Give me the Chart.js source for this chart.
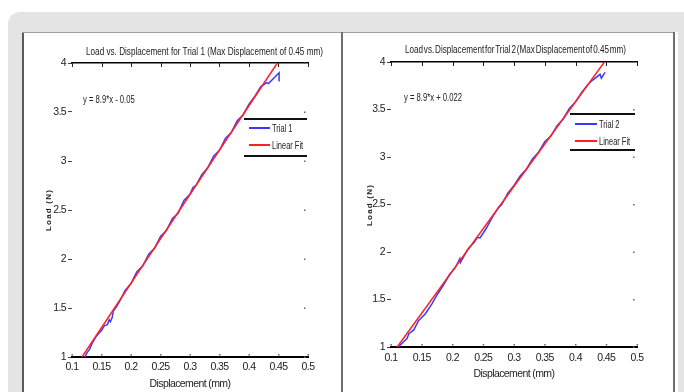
<!DOCTYPE html>
<html><head><meta charset="utf-8">
<script src="https://cdn.jsdelivr.net/npm/chart.js@4.4.1/dist/chart.umd.min.js"></script>
<style>
html,body{margin:0;padding:0;background:#fff;width:684px;height:392px;overflow:hidden;position:relative;font-family:'Liberation Sans','Arial',sans-serif;color:#222}
#bg{position:absolute;left:8px;top:12px;width:720px;height:420px;background:#e4e4e4;border-radius:12px}
#panel{position:absolute;left:22px;top:32px;width:656px;height:380px;background:#fff}
.ln{position:absolute;background:#6e6e6e}
canvas{position:absolute}
.t{position:absolute;white-space:nowrap;font-size:11.5px;line-height:12px;transform-origin:0 50%}
.eq{position:absolute;white-space:nowrap;font-size:10.5px;line-height:12px;transform-origin:0 50%;transform:scaleX(0.73)}
.lgline{position:absolute;height:2px}
.lgtxt{position:absolute;white-space:nowrap;font-size:11px;line-height:12px;transform-origin:0 50%;transform:scaleX(0.68)}
.yt{position:absolute;white-space:nowrap;font-size:8px;font-weight:bold;letter-spacing:1.2px;line-height:10px;transform:translate(-50%,-50%) rotate(-90deg)}
</style></head>
<body>
<div id="bg"></div>
<div id="panel"></div>
<div class="ln" style="left:22px;top:32px;width:2px;height:370px;background:#5a5a5a"></div>
<div class="ln" style="left:22px;top:32px;width:653px;height:1px;background:#a0a0a0"></div>
<div class="ln" style="left:341px;top:32px;width:2px;height:370px"></div>
<div class="ln" style="left:673px;top:32px;width:2px;height:370px"></div>

<canvas id="c1" width="316" height="358" style="left:24px;top:34px;width:316px;height:358px"></canvas>
<canvas id="c2" width="328" height="358" style="left:344px;top:34px;width:328px;height:358px"></canvas>

<div class="t" id="t1" style="left:86px;top:45px">Load vs. Displacement for Trial 1 (Max Displacement of 0.45 mm)</div>
<div class="t" id="t2" style="left:405px;top:43px;word-spacing:-2px">Load vs. Displacement for Trial 2 (Max Displacement of 0.45 mm)</div>

<div class="yt" style="left:49px;top:210px">Load (N)</div>
<div class="yt" style="left:370px;top:205px">Load (N)</div>

<div class="eq" style="left:83px;top:93px">y = 8.9*x - 0.05</div>
<div class="eq" style="left:404px;top:91px">y = 8.9*x + 0.022</div>

<!-- legend left -->
<div class="lgline" style="left:244px;top:118px;width:63px;height:1.5px;background:#111"></div>
<div class="lgline" style="left:244px;top:155px;width:63px;height:1.5px;background:#111"></div>
<div class="lgline" style="left:249px;top:127px;width:21px;background:#3a3aff"></div>
<div class="lgtxt" style="left:272px;top:122px">Trial 1</div>
<div class="lgline" style="left:249px;top:144px;width:21px;background:#ff2020"></div>
<div class="lgtxt" style="left:272px;top:139px">Linear Fit</div>
<!-- legend right -->
<div class="lgline" style="left:570px;top:113px;width:65px;height:1.5px;background:#111"></div>
<div class="lgline" style="left:570px;top:149px;width:65px;height:1.5px;background:#111"></div>
<div class="lgline" style="left:575px;top:123px;width:22px;background:#3a3aff"></div>
<div class="lgtxt" style="left:599px;top:118px">Trial 2</div>
<div class="lgline" style="left:575px;top:140px;width:22px;background:#ff2020"></div>
<div class="lgtxt" style="left:599px;top:135px">Linear Fit</div>

<script>
// ---- data ----
const xTicks = [0.1,0.15,0.2,0.25,0.3,0.35,0.4,0.45,0.5];
const yTicks = [1,1.5,2,2.5,3,3.5,4];

const trial1X = [0.122,0.125,0.130,0.135,0.140,0.145,0.150,0.155,0.160,0.163,0.165,0.168,0.170,0.175,0.180,0.190,0.200,0.210,0.220,0.230,0.240,0.250,0.255,0.260,0.270,0.280,0.290,0.300,0.305,0.310,0.320,0.330,0.340,0.350,0.360,0.370,0.380,0.390,0.400,0.410,0.420,0.430,0.433,0.451,0.451];
const trial1Y = [1.00,1.04,1.08,1.15,1.20,1.24,1.27,1.32,1.33,1.38,1.36,1.40,1.47,1.51,1.56,1.68,1.75,1.87,1.93,2.05,2.11,2.23,2.26,2.29,2.41,2.47,2.60,2.66,2.73,2.75,2.86,2.93,3.05,3.11,3.23,3.29,3.41,3.47,3.58,3.66,3.76,3.80,3.79,3.90,3.81];
const fit1X = [0.117,0.448];
const fit1Y = [1.0,4.0];

const trial2X = [0.112,0.118,0.126,0.129,0.137,0.145,0.156,0.167,0.175,0.185,0.195,0.205,0.212,0.213,0.225,0.235,0.240,0.245,0.255,0.265,0.275,0.280,0.290,0.300,0.310,0.320,0.330,0.340,0.350,0.360,0.370,0.380,0.390,0.400,0.410,0.420,0.428,0.440,0.442,0.448];
const trial2Y = [1.00,1.04,1.09,1.14,1.18,1.28,1.35,1.46,1.55,1.65,1.76,1.84,1.93,1.89,2.03,2.10,2.15,2.15,2.25,2.37,2.47,2.50,2.62,2.70,2.80,2.87,2.98,3.05,3.16,3.22,3.33,3.40,3.51,3.58,3.68,3.76,3.81,3.87,3.83,3.89];
const fit2X = [0.110,0.447];
const fit2Y = [1.0,4.0];

const FONT = "'Liberation Sans','Arial',sans-serif";
const pts = (xs, ys) => xs.map((x, i) => ({x, y: ys[i]}));
const fmt = v => String(Math.round(v * 100) / 100);

// fit titles to their measured widths in the reference
function fitWidth(id, w) {
  const el = document.getElementById(id);
  const k = w / el.getBoundingClientRect().width;
  el.style.transform = 'scaleX(' + k + ')';
}
fitWidth('t1', 237);
fitWidth('t2', 221);

const condense = {
  id: 'condense',
  beforeLayout(chart) { chart.ctx.letterSpacing = '-0.6px'; },
  beforeDraw(chart) { chart.ctx.letterSpacing = '-0.6px'; }
};

const decor = {
  id: 'decor',
  afterDraw(chart) {
    const {ctx, chartArea: a, scales: {x, y}} = chart;
    ctx.save();
    ctx.strokeStyle = '#222';
    ctx.lineWidth = 1;
    xTicks.forEach(v => {
      const px = Math.round(x.getPixelForValue(v)) + 0.5;
      ctx.beginPath(); ctx.moveTo(px, a.top); ctx.lineTo(px, a.top + 4); ctx.stroke();
    });
    ctx.fillStyle = '#666';
    xTicks.forEach(v => {
      const px = x.getPixelForValue(v);
      ctx.fillRect(px - 0.5, a.bottom - 3, 1.5, 1.5);
    });
    yTicks.forEach(v => {
      const py = y.getPixelForValue(v);
      ctx.fillRect(a.right - 4, py - 0.5, 1.5, 1.5);
    });
    ctx.restore();
  }
};

function makeChart(id, tX, tY, fX, fY, cfg) {
  new Chart(document.getElementById(id), {
    type: 'scatter',
    data: {
      datasets: [
        {label: 'Linear Fit', data: pts(fX, fY), showLine: true, borderColor: '#ff2020', borderWidth: 1.5, pointRadius: 0, order: 0},
        {label: cfg.name, data: pts(tX, tY), showLine: true, borderColor: '#3a3aff', borderWidth: 1.5, pointRadius: 0, order: 1}
      ]
    },
    options: {
      responsive: false, animation: false, events: [],
      layout: {padding: {left: 0, right: cfg.padRight, top: 0, bottom: 0}},
      plugins: {legend: {display: false}, tooltip: {enabled: false}, title: {display: false}},
      scales: {
        x: {
          type: 'linear', position: 'bottom', min: 0.1, max: 0.5,
          afterBuildTicks: s => { s.ticks = xTicks.map(v => ({value: v})); },
          afterFit: s => { s.height = cfg.xH; },
          border: {display: true, color: '#000', width: 2},
          grid: {display: true, drawOnChartArea: false, drawTicks: false},
          ticks: {color: '#222', font: {family: FONT, size: 10.5}, padding: cfg.xTickPad, maxRotation: 0, autoSkip: false, callback: fmt},
          title: {display: true, text: 'Displacement (mm)', color: '#222', font: {family: FONT, size: 10.5}, padding: {top: 0, bottom: cfg.xTitlePad}}
        },
        xTop: {
          type: 'linear', position: 'top', min: 0.1, max: 0.5,
          afterFit: s => { s.height = cfg.topH; },
          border: {display: true, color: '#000', width: 1.5},
          grid: {display: false},
          ticks: {display: false}
        },
        y: {
          type: 'linear', position: 'left', min: 1, max: 4,
          afterBuildTicks: s => { s.ticks = yTicks.map(v => ({value: v})); },
          afterFit: s => { s.width = cfg.yW; },
          border: {display: false},
          grid: {display: true, drawOnChartArea: false, drawTicks: true, tickLength: 4, color: '#444'},
          ticks: {color: '#222', font: {family: FONT, size: 10.5}, padding: 2, callback: fmt},
          title: {display: false}
        }
      }
    },
    plugins: [condense, decor]
  });
}

makeChart('c1', trial1X, trial1Y, fit1X, fit1Y, {name: 'Trial 1', padRight: 32, xH: 35, topH: 29, yW: 48, xTickPad: 4, xTitlePad: 2, yTitlePad: 21});
makeChart('c2', trial2X, trial2Y, fit2X, fit2Y, {name: 'Trial 2', padRight: 35, xH: 45, topH: 28, yW: 47, xTickPad: 5, xTitlePad: 12, yTitlePad: 21});
</script>
</body></html>
